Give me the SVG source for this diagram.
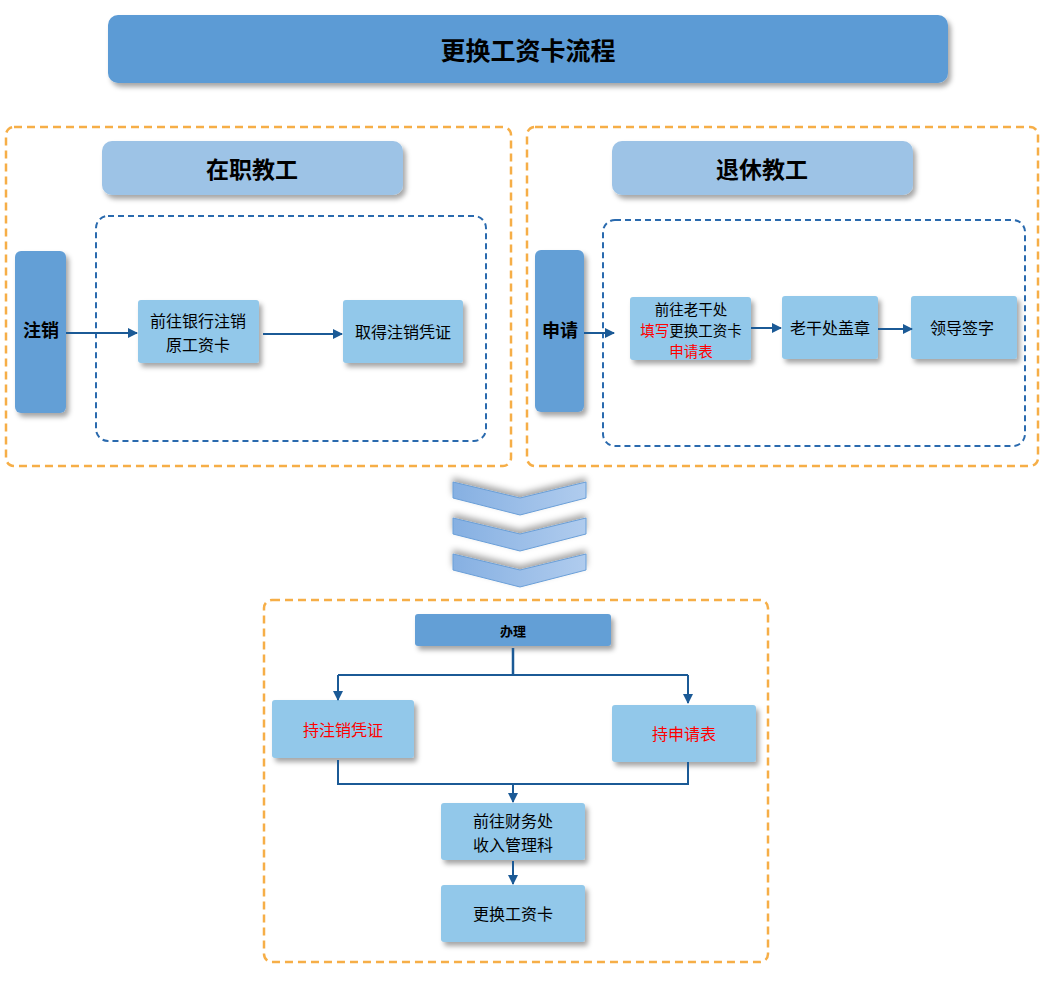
<svg xmlns="http://www.w3.org/2000/svg" width="1048" height="981" viewBox="0 0 1048 981">
<style>
text{font-family:"Noto Sans CJK SC","Liberation Sans",sans-serif;fill:#000;text-anchor:middle;dominant-baseline:central}
.b{font-weight:bold}
.red{fill:#FF0000}
.box{fill:#92C8EA;filter:url(#sh)}
.bar{fill:#649FD6;filter:url(#sh)}
.hdr{fill:#9DC3E6;filter:url(#sh)}
.org{fill:none;stroke:#F6AE47;stroke-width:2.5;stroke-dasharray:8 5}
.blu{fill:none;stroke:#2A6AAE;stroke-width:2;stroke-dasharray:6 4}
.ln{fill:none;stroke:#1B5A96;stroke-width:2}
.chev{fill:url(#cg);stroke:#6A9FD8;stroke-width:1;filter:url(#sh2)}
</style>
<defs>
<filter id="sh" x="-10%" y="-10%" width="130%" height="140%"><feDropShadow dx="3" dy="4" stdDeviation="2.5" flood-color="#000" flood-opacity="0.35"/></filter>
<filter id="sh2" x="-10%" y="-30%" width="130%" height="180%"><feDropShadow dx="0" dy="-4" stdDeviation="3" flood-color="#000" flood-opacity="0.35"/></filter>
<linearGradient id="cg" x1="0" y1="0" x2="1" y2="0"><stop offset="0" stop-color="#86B0E2"/><stop offset="1" stop-color="#B0CCEE"/></linearGradient>
<marker id="ah" viewBox="0 0 10 10" refX="9" refY="5" markerWidth="5" markerHeight="5" orient="auto"><path d="M0,0 L10,5 L0,10 z" fill="#1B5A96"/></marker>
</defs>

<g id="title"><rect x="108" y="15" width="840" height="68" rx="10" fill="#5B9BD5" filter="url(#sh)"/><text x="528" y="49" class="b" font-size="25">更换工资卡流程</text></g>

<g id="group-left"><rect x="6" y="127" width="505" height="339" rx="8" class="org"/></g>
<g id="group-right"><rect x="527" y="127" width="511" height="339" rx="8" class="org"/></g>
<g id="group-bottom"><rect x="264" y="600" width="504" height="362" rx="8" class="org"/></g>

<g id="inner-left"><rect x="96" y="216" width="390" height="225" rx="12" class="blu"/></g>
<g id="inner-right"><rect x="603" y="220" width="422" height="226" rx="12" class="blu"/></g>

<g id="hdr-left"><rect x="102" y="141" width="301" height="54" rx="10" class="hdr"/><text x="252" y="168" class="b" font-size="23">在职教工</text></g>
<g id="hdr-right"><rect x="612" y="141" width="301" height="54" rx="10" class="hdr"/><text x="762" y="168" class="b" font-size="23">退休教工</text></g>

<g id="n-zhuxiao"><rect x="15" y="251" width="51" height="162" rx="6" class="bar"/><text x="41" y="329" class="b" font-size="18">注销</text></g>
<g id="n-bank"><rect x="138" y="300" width="121" height="63" rx="3" class="box"/><text font-size="16"><tspan x="198" y="320">前往银行注销</tspan><tspan x="198" y="343.5">原工资卡</tspan></text></g>
<g id="n-cert"><rect x="343" y="300" width="120" height="63" rx="3" class="box"/><text x="403" y="331" font-size="16">取得注销凭证</text></g>

<g id="n-shenqing"><rect x="535" y="250" width="49" height="162" rx="6" class="bar"/><text x="560" y="329" class="b" font-size="18">申请</text></g>
<g id="n-fill"><rect x="630" y="297" width="121" height="63" rx="3" class="box"/><text font-size="14.5"><tspan x="691" y="307.5">前往老干处</tspan><tspan x="691" y="328.5" class="red">填写</tspan><tspan>更换工资卡</tspan><tspan x="691" y="349.5" class="red">申请表</tspan></text></g>
<g id="n-stamp"><rect x="782" y="296" width="96" height="63" rx="3" class="box"/><text x="830" y="327" font-size="16">老干处盖章</text></g>
<g id="n-sign"><rect x="911" y="296" width="106" height="63" rx="3" class="box"/><text x="962" y="327" font-size="16">领导签字</text></g>

<g id="chevrons">
<polygon class="chev" points="453,482 520,498 586,482 586,498 520,515 453,498"/>
<polygon class="chev" points="453,518 520,534 586,518 586,534 520,551 453,534"/>
<polygon class="chev" points="453,554 520,570 586,554 586,570 520,587 453,570"/>
</g>

<g id="n-banli"><rect x="415" y="614" width="196" height="32" rx="3" class="bar"/><text x="513" y="630" class="b" font-size="13">办理</text></g>
<g id="n-holdcert"><rect x="272" y="700" width="142" height="58" rx="3" class="box"/><text x="343" y="729" font-size="16" class="red">持注销凭证</text></g>
<g id="n-holdform"><rect x="612" y="705" width="144" height="57" rx="3" class="box"/><text x="684" y="733" font-size="16" class="red">持申请表</text></g>
<g id="n-finance"><rect x="441" y="803" width="144" height="57" rx="3" class="box"/><text font-size="16"><tspan x="513" y="820">前往财务处</tspan><tspan x="513" y="843.5">收入管理科</tspan></text></g>
<g id="n-replace"><rect x="441" y="885" width="144" height="57" rx="3" class="box"/><text x="513" y="913" font-size="16">更换工资卡</text></g>

<g id="connectors">
<path class="ln" d="M66,333 H137" marker-end="url(#ah)"/>
<path class="ln" d="M263,334 H342" marker-end="url(#ah)"/>
<path class="ln" d="M584,333 H614" marker-end="url(#ah)"/>
<path class="ln" d="M751,328 H781" marker-end="url(#ah)"/>
<path class="ln" d="M878,329 H912" marker-end="url(#ah)"/>
<path class="ln" d="M513,648 V675" style="stroke-width:2.5"/>
<path class="ln" d="M338,675 H688"/>
<path class="ln" d="M338,675 V700" marker-end="url(#ah)"/>
<path class="ln" d="M688,675 V703" marker-end="url(#ah)"/>
<path class="ln" d="M338,760 V784 H688 V762"/>
<path class="ln" d="M513,784 V802" marker-end="url(#ah)"/>
<path class="ln" d="M513,861 V884" marker-end="url(#ah)"/>
</g>
</svg>
